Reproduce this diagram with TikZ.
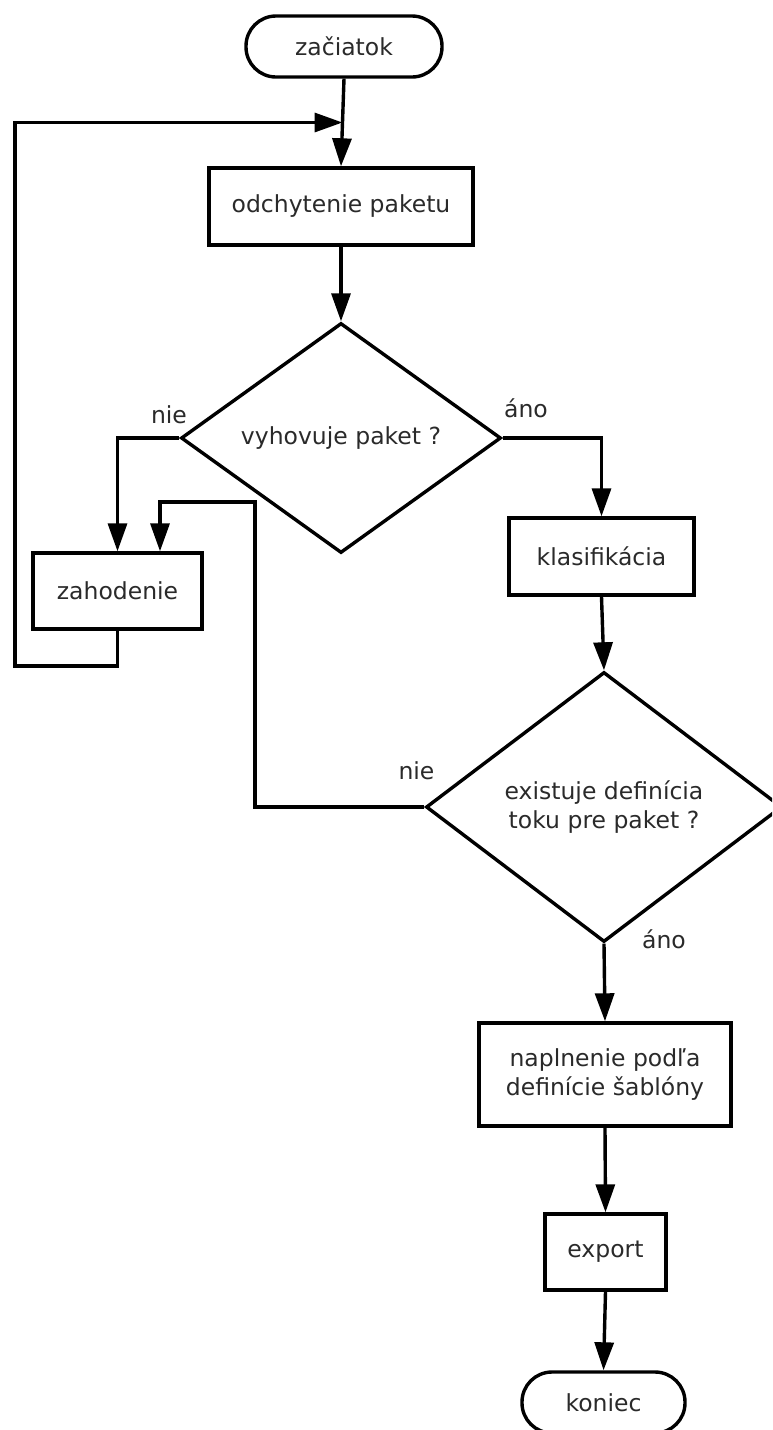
\documentclass[tikz,border=0pt]{standalone}
\usepackage{fontspec}
\setmainfont{DejaVu Sans}
\usetikzlibrary{arrows.meta,shapes.geometric,calc}
\definecolor{txt}{HTML}{2A2A2A}
\begin{document}
\begin{tikzpicture}[x=1pt,y=-1pt,
  line width=3.4pt,
  every node/.style={font=\fontsize{23.5}{29}\selectfont, text=txt},
  proc/.style={draw=black, rectangle, inner sep=0pt, align=center},
  term/.style={draw=black, rectangle, rounded corners=30pt, inner sep=0pt},
  decision/.style={draw=black, diamond, aspect=1, inner sep=0pt, align=center},
  flow/.style={draw=black, -{Triangle[length=28pt,width=19pt]}, line join=miter},
  lbl/.style={inner sep=0pt}
]
\clip (0,0) rectangle (772,1430);

% process steps
\node[term, minimum width=196pt, minimum height=61pt] (start) at (344,46.5) {začiatok};
\node[proc, minimum width=264pt, minimum height=77pt] (catch) at (341,206.5) {odchytenie paketu};
\node[decision, minimum width=320pt, minimum height=230pt] (fits) at (341,438) {vyhovuje paket ?};
\node[proc, minimum width=169pt, minimum height=76pt] (drop) at (117.5,591) {zahodenie};
\node[proc, minimum width=185pt, minimum height=77pt] (classify) at (601.5,556.5) {klasifikácia};
\node[decision, minimum width=356pt, minimum height=270pt] (flowdef) at (604,807) {existuje definícia\\toku pre paket ?};
\node[proc, minimum width=252pt, minimum height=103pt] (fill) at (605,1074.5) {naplnenie podľa\\definície šablóny};
\node[proc, minimum width=121pt, minimum height=76pt] (export) at (605.5,1252) {export};
\node[term, minimum width=163pt, minimum height=61pt] (stop) at (603.5,1402.5) {koniec};

% branch labels
\node[lbl] (no1) at (169,414.5) {nie};
\node[lbl] (yes1) at (526,408) {áno};
\node[lbl] (no2) at (416.5,771) {nie};
\node[lbl] (yes2) at (664,939) {áno};

% helper points for the routed connectors
\coordinate (join) at ($(start.south)!0.5!(catch.north)$);
\coordinate (loopB) at (15,666);
\coordinate (bendB) at (255,502);
\coordinate (dropR) at ($(drop.north)+(42.5,0)$);

% connectors
\draw[flow] (start.south) -- (catch.north);
\draw[flow] (drop.south) |- (loopB) |- (join);
\draw[flow] (catch.south) -- (fits.north);
\draw[flow] (fits.west) -| (drop.north);
\draw[flow] (fits.east) -| (classify.north);
\draw[flow] (classify.south) -- (flowdef.north);
\draw[flow] (flowdef.west) -| (bendB) -| (dropR);
\draw[flow] (flowdef.south) -- (fill.north);
\draw[flow] (fill.south) -- (export.north);
\draw[flow] (export.south) -- (stop.north);
\end{tikzpicture}
\end{document}
